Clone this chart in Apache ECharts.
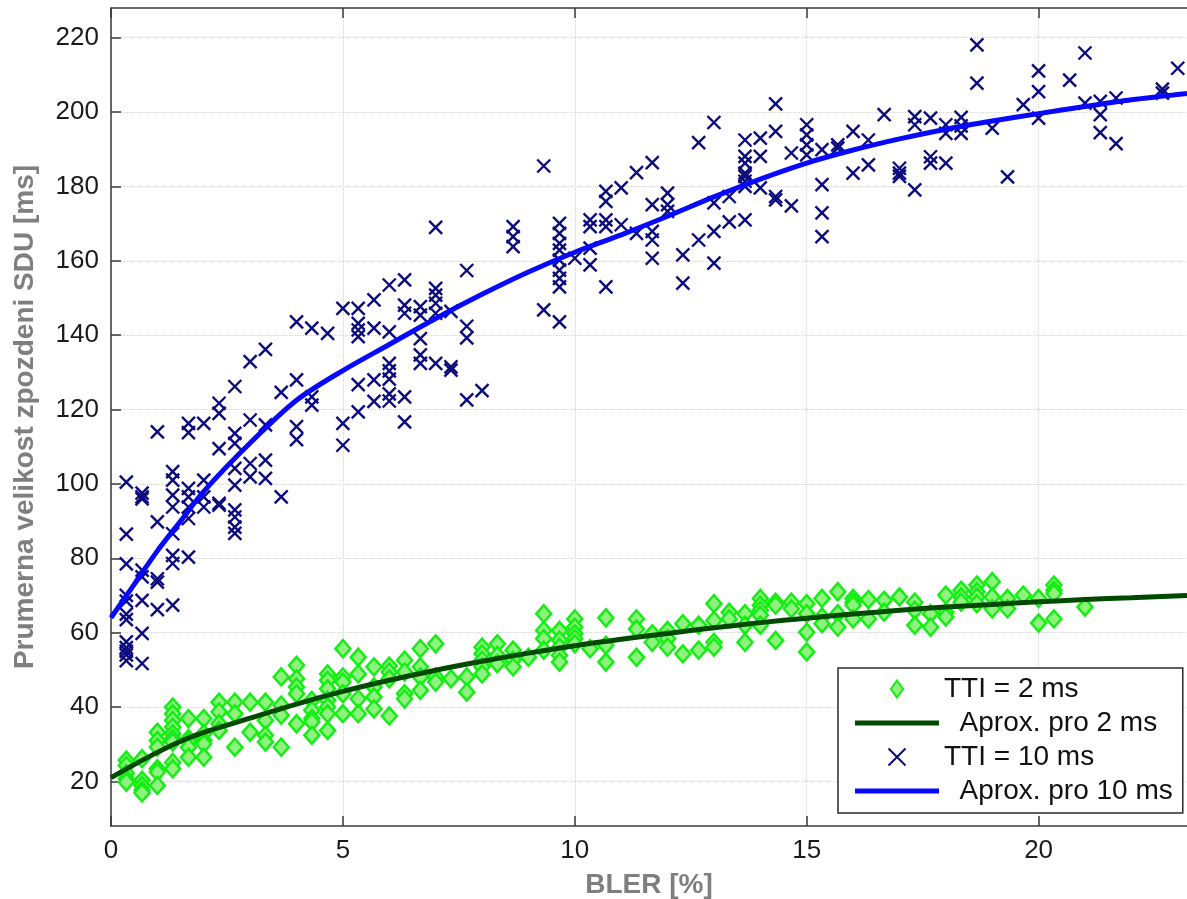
<!DOCTYPE html>
<html><head><meta charset="utf-8">
<script src="https://cdn.jsdelivr.net/npm/echarts@6/dist/echarts.min.js"></script>
<style>html,body{margin:0;padding:0;background:#fff}#c{width:1187px;height:899px}</style>
</head><body><div id="c"></div>
<script>
// ---- axis ticks ----
const xTicks = [0, 5, 10, 15, 20];
const yTicks = [20, 40, 60, 80, 100, 120, 140, 160, 180, 200, 220];

// ---- legend / series names ----
const names = ['TTI = 2 ms', '  Aprox. pro 2 ms', 'TTI = 10 ms', '  Aprox. pro 10 ms'];

// ---- approximation curves ----
const fitX   = [0, 0.5, 1, 1.5, 2, 3, 4, 5, 6, 7, 8, 9, 10, 11, 12, 13, 14, 15, 16, 17, 18, 19, 20, 21, 22, 23.2];
const fit2Y  = [21, 24.5, 27.8, 30.8, 33.2, 37, 40.8, 44.2, 47.2, 49.9, 52.3, 54.5, 56.5, 58.2, 59.8, 61.3, 62.7, 63.9, 65, 66, 66.9, 67.6, 68.3, 68.9, 69.4, 70];
const fit10Y = [64, 73, 82, 90, 98, 111, 122.5, 130.5, 137.5, 144.5, 151, 157, 162.3, 167, 172, 177.2, 182, 186.3, 189.8, 192.8, 195.4, 197.6, 199.6, 201.5, 203.3, 205];

// ---- measured points, TTI = 2 ms ----
const tti2Points = [
[0.33,25.7],[0.33,24.3],[0.33,22.1],[0.33,20.7],[0.33,19.8],
[0.67,26.1],[0.67,20.3],[0.67,18.9],[0.67,17.6],[0.67,16.9],
[1,33.2],[1,31],[1,29.2],[1,23.4],[1,22.5],[1,18.9],
[1.33,40],[1.33,38.2],[1.33,36.4],[1.33,34.6],[1.33,32.8],[1.33,31.5],[1.33,30.6],[1.33,25.1],[1.33,23.4],
[1.67,36.9],[1.67,31.5],[1.67,30.6],[1.67,29.2],[1.67,26.5],
[2,36.9],[2,32.8],[2,31],[2,30.1],[2,26.5],
[2.33,41.3],[2.33,38.7],[2.33,35.5],[2.33,33.7],
[2.67,41.3],[2.67,38.2],[2.67,29.2],
[3,41.3],[3,33.2],
[3.33,41.3],[3.33,36.4],[3.33,32.4],[3.33,30.6],
[3.67,48.1],[3.67,40.5],[3.67,37.8],[3.67,29.2],
[4,51.2],[4,47.6],[4,45.4],[4,43.6],[4,35.5],
[4.33,41.8],[4.33,39.1],[4.33,36.9],[4.33,36],[4.33,32.4],
[4.67,48.9],[4.67,47.2],[4.67,44.9],[4.67,41.8],[4.67,40],[4.67,38.2],[4.67,33.7],
[5,55.7],[5,48.1],[5,46.7],[5,43.6],[5,38.2],
[5.33,53.4],[5.33,48.9],[5.33,42.2],[5.33,38.2],
[5.67,50.8],[5.67,45.4],[5.67,42.7],[5.67,39.5],
[6,51],[6,49.4],[6,47.6],[6,37.6],
[6.33,52.6],[6.33,49.4],[6.33,43.6],[6.33,42.2],
[6.67,55.7],[6.67,50.8],[6.67,48.1],[6.67,44.5],
[7,57],[7,48.1],[7,46.7],
[7.33,47.6],
[7.67,48.1],[7.67,44],
[8,56.1],[8,54.3],[8,52.6],[8,50.8],[8,48.9],
[8.33,57],[8.33,53.9],[8.33,51.7],
[8.67,55.3],[8.67,52.6],[8.67,50.8],
[9,53.4],
[9.33,65.1],[9.33,60.6],[9.33,58.4],[9.33,55.3],
[9.67,60.6],[9.67,58],[9.67,56.1],[9.67,53.9],[9.67,52.1],
[10,63.7],[10,61.5],[10,59.7],[10,58.4],[10,57],
[10.33,55.7],
[10.67,64],[10.67,56.6],[10.67,52.1],
[11.33,63.7],[11.33,61],[11.33,53.4],
[11.67,59.7],[11.67,57.4],
[12,60.6],[12,58.4],[12,56.1],
[12.33,62.4],[12.33,54.3],
[12.67,62],[12.67,55.3],
[13,67.8],[13,63.3],[13,57.4],[13,56.1],
[13.33,65.5],[13.33,63.7],
[13.67,65.1],[13.67,62],[13.67,57.4],
[14,69.2],[14,67.4],[14,66],[14,64.7],[14,62],
[14.33,68.2],[14.33,67.4],[14.33,57.9],
[14.67,68.2],[14.67,66.4],
[15,67.8],[15,65.1],[15,60.1],[15,54.8],
[15.33,69.2],[15.33,64.2],[15.33,62.4],
[15.67,71],[15.67,65.1],[15.67,61.5],
[16,69.2],[16,68.2],[16,67.4],[16,63.7],
[16.33,68.9],[16.33,63.7],
[16.67,68.7],[16.67,65.5],
[17,69.6],
[17.33,68.2],[17.33,66],[17.33,62],
[17.67,65.1],[17.67,61.5],
[18,70.1],[18,65.5],[18,64.2],
[18.33,71.4],[18.33,69.6],[18.33,68.2],
[18.67,72.8],[18.67,71],[18.67,69.6],[18.67,67.8],
[19,73.7],[19,69.6],[19,66.4],
[19.33,69.2],[19.33,66.4],
[19.67,70.1],
[20,69.2],[20,62.6],
[20.33,72.8],[20.33,71.4],[20.33,70.5],[20.33,63.7],
[21,66.9]
];

// ---- measured points, TTI = 10 ms ----
const tti10Points = [
[0.33,100.5],[0.33,86.5],[0.33,78.5],[0.33,70],[0.33,68.5],[0.33,65],[0.33,63.5],[0.33,57.5],[0.33,56],[0.33,55],[0.33,54],[0.33,52.5],
[0.67,97.5],[0.67,96.5],[0.67,96],[0.67,76.8],[0.67,75],[0.67,68.7],[0.67,59.8],[0.67,51.7],
[1,114],[1,89.8],[1,74.5],[1,73.6],[1,66.2],
[1.33,103.3],[1.33,101],[1.33,97],[1.33,93.8],[1.33,86.6],[1.33,80.8],[1.33,78.6],[1.33,67.4],
[1.67,116.3],[1.67,113.8],[1.67,98.8],[1.67,96.5],[1.67,93.8],[1.67,90.7],[1.67,80.3],
[2,116.3],[2,101],[2,96.5],[2,93.8],
[2.33,121.7],[2.33,119],[2.33,109.5],[2.33,94.3],[2.33,94.8],
[2.67,126.2],[2.67,113.6],[2.67,110.9],[2.67,104.2],[2.67,99.7],[2.67,93],[2.67,91.1],[2.67,88.4],[2.67,86.7],
[3,132.9],[3,117.2],[3,105.5],[3,101.9],
[3.33,136.2],[3.33,115.9],[3.33,106.4],[3.33,101.5],
[3.67,124.6],[3.67,96.5],
[4,143.6],[4,128],[4,115.4],[4,111.9],
[4.33,141.9],[4.33,123.4],[4.33,121.2],
[4.67,140.5],
[5,147.2],[5,116.3],[5,110.4],
[5.33,147.2],[5.33,143.2],[5.33,141.4],[5.33,139.6],[5.33,126.7],[5.33,119.4],
[5.67,149.5],[5.67,141.9],[5.67,128],[5.67,122.2],
[6,153.5],[6,140.9],[6,132.4],[6,130.4],[6,128.2],[6,124.2],[6,122.3],
[6.33,154.9],[6.33,148.1],[6.33,145.9],[6.33,123.4],[6.33,116.7],
[6.67,147.7],[6.67,145.4],[6.67,139.1],[6.67,134.7],[6.67,132.4],
[7,169],[7,152.6],[7,150.8],[7,148.6],[7,145.9],[7,132.4],
[7.33,146.4],[7.33,131.5],[7.33,130.6],
[7.67,157.4],[7.67,142.4],[7.67,139.3],[7.67,122.6],
[8,125.1],
[8.67,169.2],[8.67,166.5],[8.67,163.8],
[9.33,185.5],[9.33,146.8],
[9.67,170.1],[9.67,167.4],[9.67,164.7],[9.67,162.9],[9.67,160.2],[9.67,157.5],[9.67,155.3],[9.67,153],[9.67,143.6],
[10,160.7],
[10.33,171],[10.33,169.2],[10.33,163.4],[10.33,158.9],
[10.67,178.7],[10.67,176],[10.67,171],[10.67,169.2],[10.67,153],
[11,179.6],[11,169.7],
[11.33,183.7],[11.33,167.4],
[11.67,186.4],[11.67,175.1],[11.67,167.9],[11.67,165.6],[11.67,160.7],
[12,178.2],[12,175.1],[12,173.3],
[12.33,161.6],[12.33,154],
[12.67,191.8],[12.67,165.6],
[13,197.2],[13,175.6],[13,167.9],[13,159.4],
[13.33,177.3],[13.33,170.5],
[13.67,192.5],[13.67,188.1],[13.67,186.3],[13.67,183.6],[13.67,182.7],[13.67,181.4],[13.67,180],[13.67,171],
[14,193],[14,188.1],[14,179.6],
[14.33,202.2],[14.33,194.8],[14.33,177.3],[14.33,176.4],
[14.67,189],[14.67,174.8],
[15,196.6],[15,193.9],[15,191.2],[15,188.5],
[15.33,189.9],[15.33,180.5],[15.33,172.9],[15.33,166.5],
[15.67,191.2],[15.67,190.3],
[16,194.8],[16,183.6],
[16.33,192.5],[16.33,185.8],
[16.67,199.3],
[17,184.9],[17,183.6],[17,182.7],
[17.33,198.8],[17.33,196.6],[17.33,179.1],
[17.67,198.4],[17.67,188],[17.67,186.3],
[18,196.6],[18,194.3],[18,186.3],
[18.33,198.6],[18.33,196.3],[18.33,194.3],
[18.67,218.1],[18.67,207.8],
[19,195.7],
[19.33,182.6],
[19.67,202],
[20,211.1],[20,205.5],[20,198.4],
[20.67,208.6],
[21,215.9],[21,202.4],
[21.33,202.9],[21.33,199.3],[21.33,194.5],
[21.67,203.8],[21.67,191.5],
[22.67,206.2],[22.67,205.1],
[23,211.8]
];

const FONT = "'Liberation Sans', Arial, Helvetica, sans-serif";
const DIAMOND = 'path://M5,0L10,7L5,14L0,7Z';
const CROSS = 'path://M0,0L10,10M10,0L0,10';
const BAR = 'path://M0,0L168,0L168,10L0,10Z';
const zip = (xs, ys) => xs.map((x, i) => [x, ys[i]]);

const chart = echarts.init(document.getElementById('c'), null, {renderer: 'canvas'});
const axisLineStyle = {color: '#3a3a3a', width: 1.5};
chart.setOption({
  animation: false,
  backgroundColor: '#ffffff',
  grid: {left: 111, right: 0, top: 8, bottom: 73, containLabel: false, outerBoundsMode: 'none'},
  xAxis: [{
    type: 'value', min: 0, max: 23.2, position: 'bottom',
    name: 'BLER [%]', nameLocation: 'middle', nameGap: 45,
    nameTextStyle: {fontFamily: FONT, fontWeight: 'bold', fontSize: 28, color: '#7f7f7f'},
    axisLine: {show: true, lineStyle: axisLineStyle},
    axisTick: {show: true, inside: true, length: 10, customValues: xTicks, lineStyle: axisLineStyle},
    axisLabel: {customValues: xTicks, fontFamily: FONT, fontSize: 26, color: '#1a1a1a', margin: 12},
    splitLine: {show: true, lineStyle: {color: '#d4d4d4', type: 'dotted', width: 1}}
  }, {
    type: 'value', min: 0, max: 23.2, position: 'top',
    axisLine: {show: true, onZero: false, lineStyle: axisLineStyle},
    axisTick: {show: true, inside: true, length: 10, customValues: xTicks, lineStyle: axisLineStyle},
    axisLabel: {show: false},
    splitLine: {show: false}
  }],
  yAxis: [{
    type: 'value', min: 8, max: 228,
    name: 'Prumerna velikost zpozdeni SDU [ms]', nameLocation: 'middle', nameGap: 72,
    nameTextStyle: {fontFamily: FONT, fontWeight: 'bold', fontSize: 28, color: '#7f7f7f'},
    axisLine: {show: true, lineStyle: axisLineStyle},
    axisTick: {show: true, inside: true, length: 10, customValues: yTicks, lineStyle: axisLineStyle},
    axisLabel: {customValues: yTicks, fontFamily: FONT, fontSize: 26, color: '#1a1a1a', margin: 12},
    splitLine: {show: true, lineStyle: {color: '#d4d4d4', type: 'dotted', width: 1}}
  }],
  legend: {
    orient: 'vertical', left: 838, top: 668,
    data: [
      {name: names[0], icon: DIAMOND},
      {name: names[1], icon: BAR},
      {name: names[2], icon: CROSS},
      {name: names[3], icon: BAR}
    ],
    itemWidth: 84, itemHeight: 17, itemGap: 6,
    padding: [7, 10, 8, 17],
    backgroundColor: '#ffffff', borderColor: '#2a2a2a', borderWidth: 1.5, borderRadius: 0,
    textStyle: {fontFamily: FONT, fontSize: 28, color: '#111', lineHeight: 28},
    selectedMode: false
  },
  series: [{
    name: names[0], type: 'scatter', data: tti2Points,
    symbol: DIAMOND, symbolSize: [15, 17],
    itemStyle: {color: '#8ff27f', borderColor: '#14ee14', borderWidth: 2.5, opacity: 1},
    z: 2
  }, {
    name: names[1], type: 'line', data: zip(fitX, fit2Y), smooth: 0.3,
    showSymbol: false, symbol: 'none',
    lineStyle: {color: '#004a00', width: 5},
    itemStyle: {color: '#004a00'},
    z: 3
  }, {
    name: names[2], type: 'scatter', data: tti10Points,
    symbol: CROSS, symbolSize: 13,
    itemStyle: {color: 'none', borderColor: '#0c0c7c', borderWidth: 2.4, opacity: 1},
    z: 4
  }, {
    name: names[3], type: 'line', data: zip(fitX, fit10Y), smooth: 0.3,
    showSymbol: false, symbol: 'none',
    lineStyle: {color: '#0808ff', width: 5},
    itemStyle: {color: '#0808ff'},
    z: 5
  }]
});
</script>
</body></html>
